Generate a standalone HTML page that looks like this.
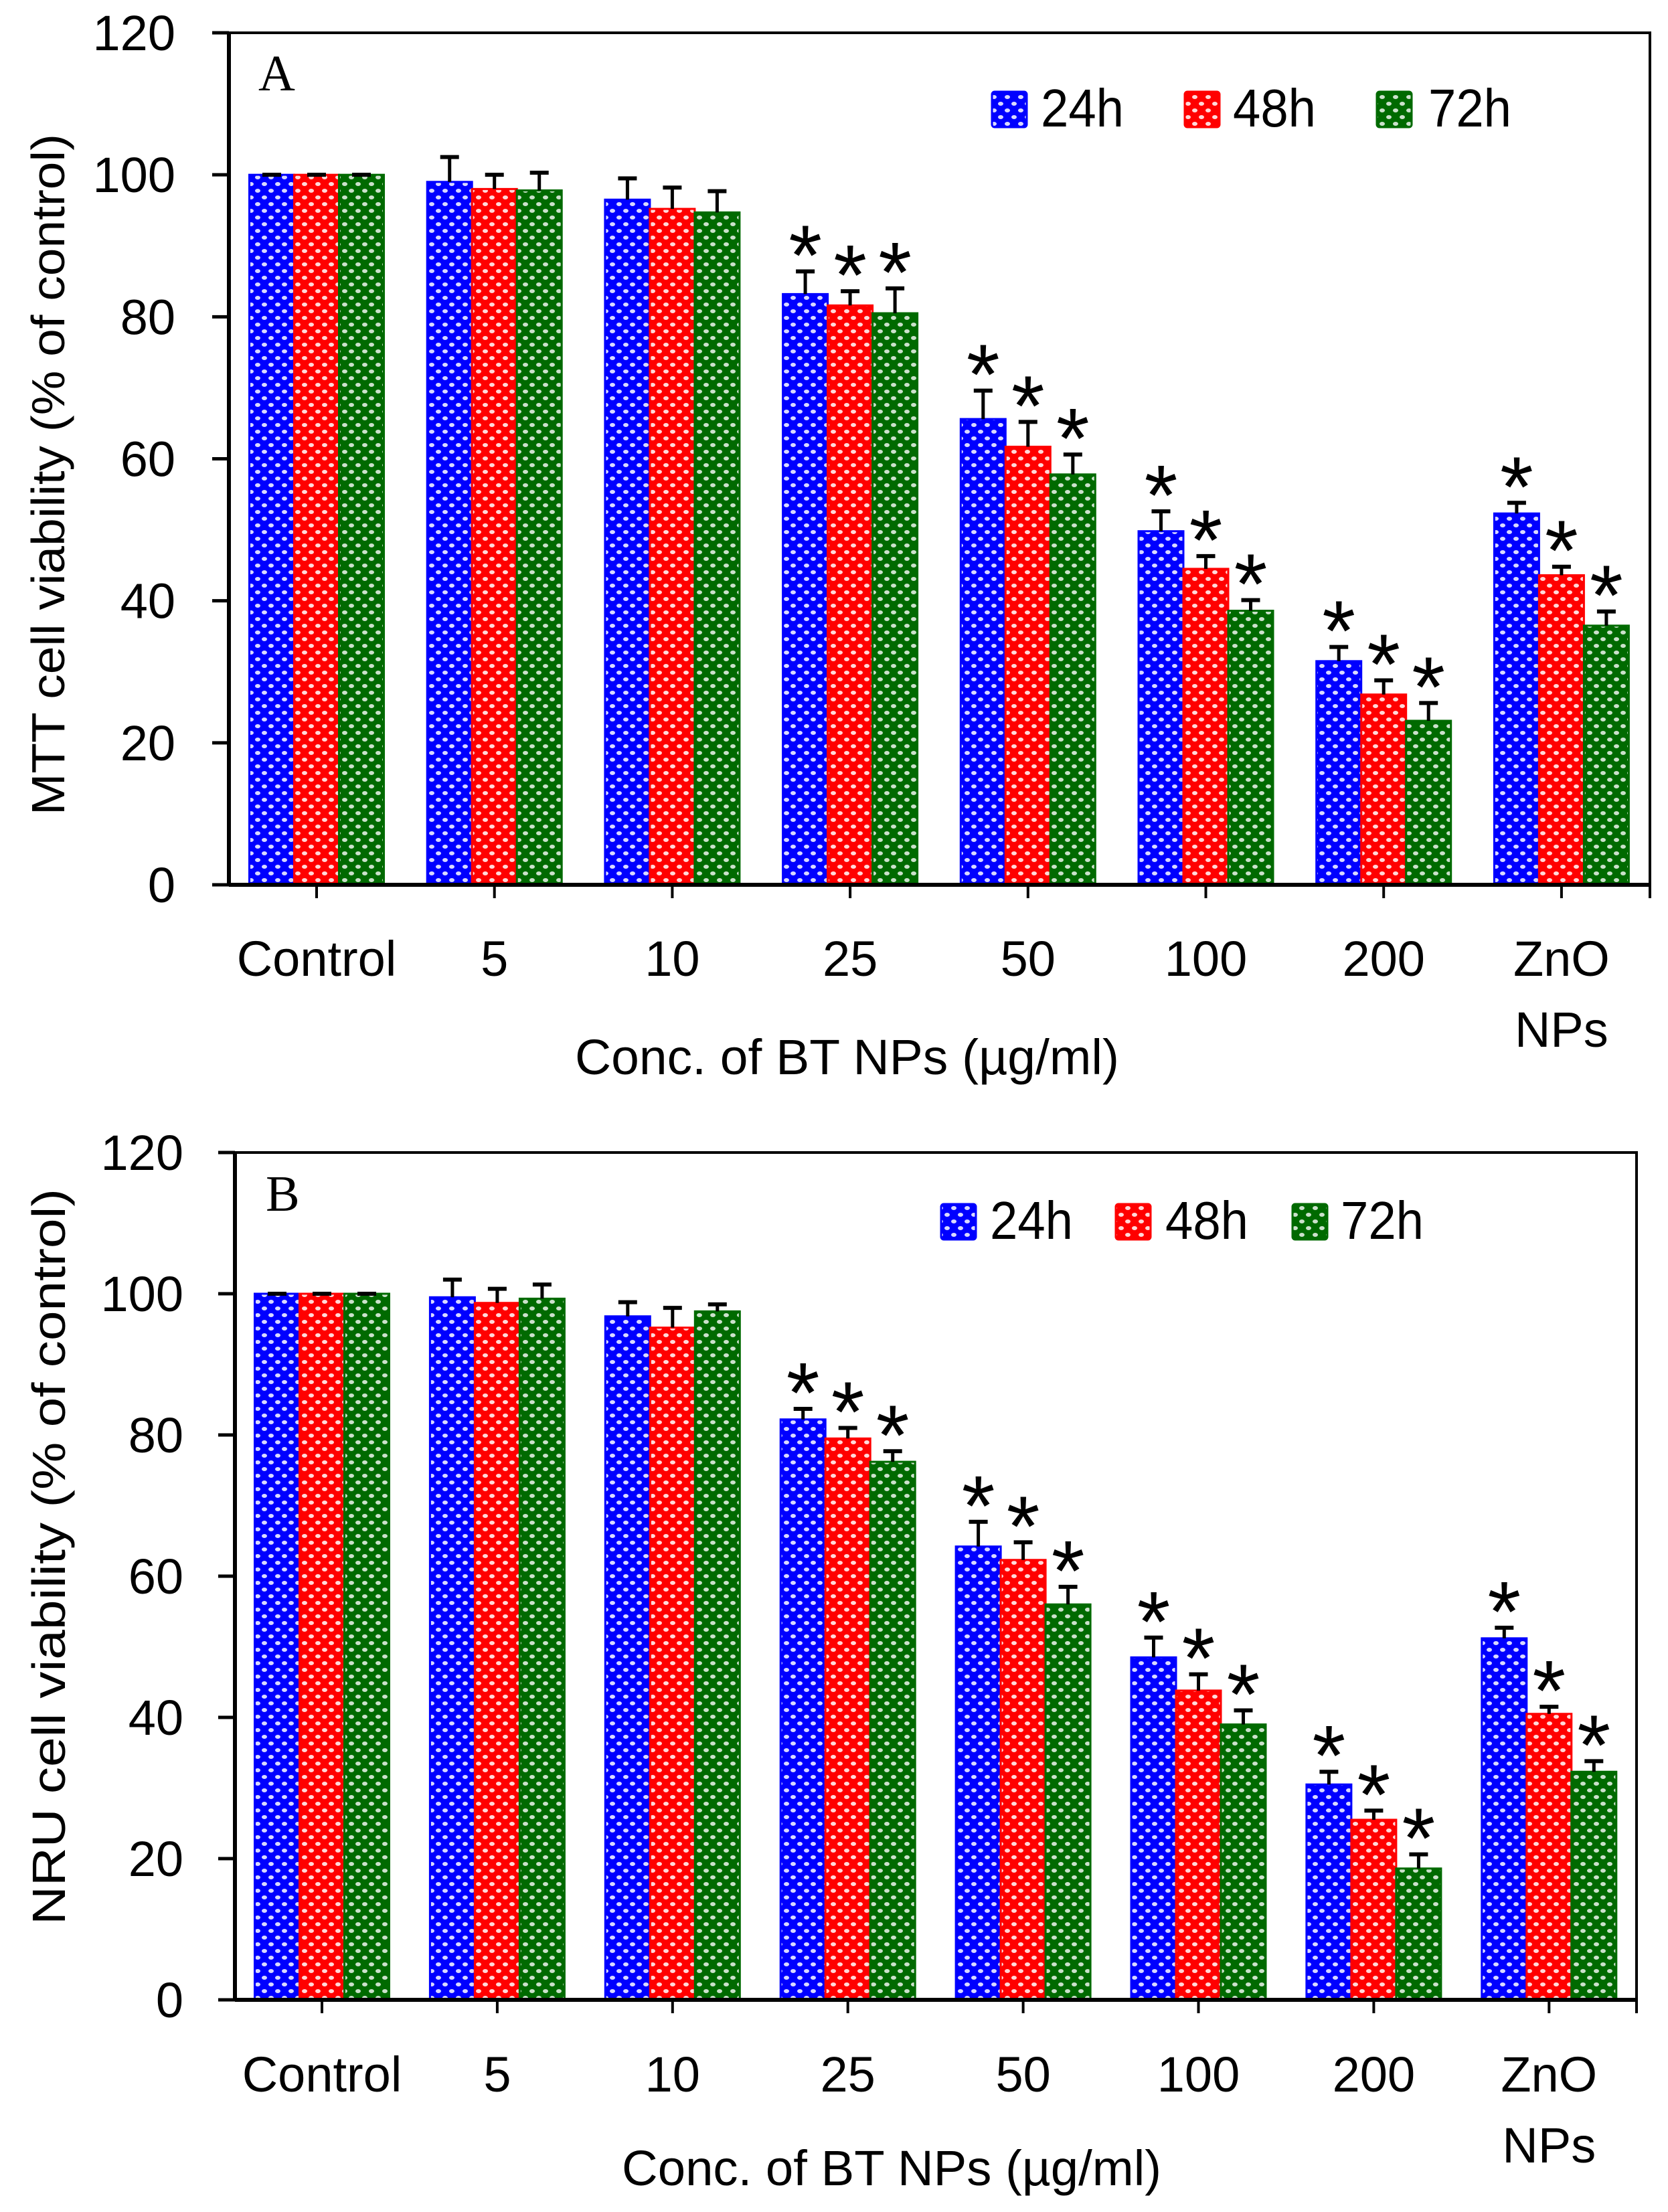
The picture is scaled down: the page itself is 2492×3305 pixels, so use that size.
<!DOCTYPE html>
<html><head><meta charset="utf-8">
<style>html,body{margin:0;padding:0;background:#fff}svg{display:block}</style>
</head><body>
<svg id="s" xmlns="http://www.w3.org/2000/svg" width="2492" height="3305" viewBox="0 0 2492 3305" font-family="'Liberation Sans', sans-serif">
<defs>
<pattern id="pb" width="20" height="20" patternUnits="userSpaceOnUse"><rect width="20" height="20" fill="#0000ff"/><ellipse cx="5" cy="5" rx="4" ry="3" fill="#fff" opacity="0.85"/><ellipse cx="15" cy="15" rx="4" ry="3" fill="#fff" opacity="0.85"/></pattern>
<pattern id="pr" width="20" height="20" patternUnits="userSpaceOnUse"><rect width="20" height="20" fill="#ff0000"/><ellipse cx="5" cy="5" rx="4" ry="3" fill="#fff" opacity="0.85"/><ellipse cx="15" cy="15" rx="4" ry="3" fill="#fff" opacity="0.85"/></pattern>
<pattern id="pg" width="20" height="20" patternUnits="userSpaceOnUse"><rect width="20" height="20" fill="#006a00"/><ellipse cx="5" cy="5" rx="4" ry="3" fill="#fff" opacity="0.8"/><ellipse cx="15" cy="15" rx="4" ry="3" fill="#fff" opacity="0.8"/></pattern>
</defs>
<g id="g"></g>
</svg>
<script>
var g=document.getElementById('g');var h='';
var fills=['url(#pb)','url(#pr)','url(#pg)'],strokes=['#0000ff','#ff0000','#006a00'];
var cats=['Control','5','10','25','50','100','200','ZnO'];
function panel(P){
 var L=P.L,R=P.R,T=P.T,Z=P.Z,u=(Z-T)/120,sp=P.sp,t0=P.t0;
 for(var i=0;i<8;i++){var c=t0+i*sp;
  for(var k=0;k<3;k++){var v=P.d[i][k],e=P.e[i][k],x=c-100.5+k*67,y=Z-v*u;
   h+='<rect x="'+x+'" y="'+y+'" width="67" height="'+(Z-y)+'" fill="'+fills[k]+'" stroke="'+strokes[k]+'" stroke-width="3"/>';
   var ey=y-e*u,cx=x+33.5;
   h+='<line x1="'+cx+'" y1="'+y+'" x2="'+cx+'" y2="'+ey+'" stroke="#000" stroke-width="5"/>';
   h+='<line x1="'+(cx-14)+'" y1="'+ey+'" x2="'+(cx+14)+'" y2="'+ey+'" stroke="#000" stroke-width="6"/>';
   if(i>=3) h+='<text x="'+cx+'" y="'+(ey+20)+'" font-size="128" text-anchor="middle">*</text>';
  }
  h+='<line x1="'+c+'" y1="'+Z+'" x2="'+c+'" y2="'+(Z+20)+'" stroke="#000" stroke-width="4"/>';
  if(i<7) h+='<text x="'+c+'" y="'+P.lb+'" font-size="74" text-anchor="middle">'+cats[i]+'</text>';
  else {h+='<text x="'+c+'" y="'+P.lb+'" font-size="74" text-anchor="middle">ZnO</text>';
        h+='<text x="'+c+'" y="'+(P.lb+106)+'" font-size="74" text-anchor="middle">NPs</text>';}
 }
 h+='<line x1="'+R+'" y1="'+Z+'" x2="'+R+'" y2="'+(Z+20)+'" stroke="#000" stroke-width="4"/>';
 h+='<rect x="'+L+'" y="'+T+'" width="'+(R-L)+'" height="'+(Z-T)+'" fill="none" stroke="#000" stroke-width="4"/>';
 h+='<line x1="'+L+'" y1="'+Z+'" x2="'+R+'" y2="'+Z+'" stroke="#000" stroke-width="6"/>';
 h+='<line x1="'+L+'" y1="'+T+'" x2="'+L+'" y2="'+Z+'" stroke="#000" stroke-width="6"/>';
 for(var j=0;j<=6;j++){var yy=Z-j*20*u;
  h+='<line x1="'+(L-25)+'" y1="'+yy+'" x2="'+L+'" y2="'+yy+'" stroke="#000" stroke-width="5"/>';
  h+='<text x="'+P.yr+'" y="'+(yy+26)+'" font-size="74" text-anchor="end">'+(j*20)+'</text>';}
 h+='<text x="'+P.lx+'" y="'+P.ly+'" font-size="76" font-family="\'Liberation Serif\', serif">'+P.lab+'</text>';
 h+='<text transform="translate('+(P.yx)+','+P.yc+') rotate(-90)" font-size="70" text-anchor="middle" textLength="'+P.yl+'" lengthAdjust="spacingAndGlyphs">'+P.yt+'</text>';
 h+='<text x="'+P.xs+'" y="'+P.xb+'" font-size="74" textLength="'+P.xl+'" lengthAdjust="spacingAndGlyphs">Conc. of BT NPs (µg/ml)</text>';
 var nm=['24h','48h','72h'];
 for(var k=0;k<3;k++){
  h+='<rect x="'+P.lg[k][0]+'" y="'+P.lgy+'" width="52" height="53" rx="4" fill="'+fills[k]+'" stroke="'+strokes[k]+'" stroke-width="3"/>';
  h+='<text x="'+P.lg[k][1]+'" y="'+(P.lgy+52)+'" font-size="80" textLength="124" lengthAdjust="spacingAndGlyphs">'+nm[k]+'</text>';}
}
panel({L:342,R:2465,T:49,Z:1322,sp:265.7,t0:473,lb:1458,yr:262,lx:386,ly:135,lab:'A',
 yx:96,yc:709,yl:1018,yt:'MTT cell viability (% of control)',xs:859,xb:1605,xl:813,
 lg:[[1482,1555],[1770,1842],[2057,2134]],lgy:137,
 d:[[100,100,100],[99,98,97.8],[96.5,95.2,94.7],[83.2,81.6,80.5],[65.6,61.7,57.8],[49.8,44.5,38.6],[31.5,26.8,23.1],[52.3,43.6,36.5]],
 e:[[0,0,0],[3.5,2,2.5],[3,3,3],[3.2,2,3.5],[4,3.5,2.8],[2.8,1.8,1.5],[2,2,2.5],[1.5,1.2,2]]});
panel({L:351,R:2445,T:1722,Z:2988,sp:261.9,t0:481,lb:3125,yr:274,lx:397,ly:1809,lab:'B',
 yx:97,yc:2326,yl:1100,yt:'NRU cell viability (% of control)',xs:929,xb:3265,xl:806,
 lg:[[1406,1479],[1667,1741],[1931,2003]],lgy:1799,
 d:[[100,100,100],[99.5,98.7,99.3],[96.8,95.2,97.5],[82.2,79.5,76.2],[64.2,62.3,56],[48.5,43.8,39],[30.5,25.5,18.6],[51.2,40.5,32.3]],
 e:[[0,0,0],[2.5,2,2],[2,2.8,1],[1.5,1.5,1.5],[3.5,2.5,2.5],[2.8,2.3,2],[1.8,1.3,2],[1.5,1,1.5]]});
g.innerHTML=h;
</script>
</body></html>
